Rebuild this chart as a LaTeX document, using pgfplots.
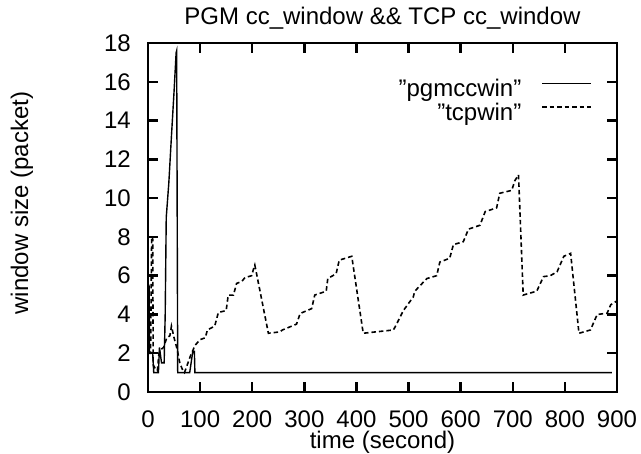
\documentclass[border=0pt]{standalone}
\usepackage{fontspec}
\setmainfont{Liberation Sans}
\usepackage{pgfplots}
\usepackage{pgfplotstable}
\pgfplotsset{compat=1.18}

\pgfplotstableread{
t v
0 5.5
2 5.5
3 2
9 2
11 1
20 1
22 2.3
26 1.5
31 1.5
33 4
35 9
40 10.8
45 13.2
50 15.5
54 17.5
55 17.6
57 1
80 1
86 2.1
89 2.1
90 1
890 1
}\pgmtable

\pgfplotstableread{
t v
0 2
5 2
7 8
9 8
10 1.4
14 1.2
18 1.1
21 2.0
25 2.2
30 2.3
36 2.8
42 2.9
45 3.4
50 2.8
56 2.2
61 1.5
67 1.1
70 1.0
74 1.3
78 1.6
82 1.9
87 2.2
90 2.4
100 2.7
110 2.8
114 3.2
128 3.4
135 4.1
150 4.2
154 5.0
164 5.0
170 5.6
180 5.7
186 5.9
199 6.0
202 6.3
205 6.55
231 3.03
253 3.1
258 3.2
285 3.5
292 4.05
314 4.3
320 5.0
342 5.2
345 5.85
361 6.1
367 6.8
391 7.0
413 3.03
471 3.2
477 3.5
490 4.2
509 4.9
512 5.2
535 5.85
554 6.0
560 6.7
579 6.9
586 7.6
605 7.75
615 8.4
637 8.6
647 9.3
669 9.5
675 10.25
698 10.4
704 10.9
711 11.2
720 5.0
746 5.2
759 5.95
772 6.0
785 6.2
798 7.0
811 7.15
827 3.03
849 3.2
862 4.0
881 4.06
888 4.5
900 4.7
}\tcptable

\newcommand{\bigfont}{\fontsize{24bp}{28bp}\selectfont}

\begin{document}
\bigfont
\begin{tikzpicture}
\begin{axis}[
  scale only axis,
  width=469bp, height=349bp,
  xmin=0, xmax=900, ymin=0, ymax=18,
  xtick={0,100,200,300,400,500,600,700,800,900},
  xticklabels={0,100,200,300,400,500,600,700,800,900},
  ytick={0,2,4,6,8,10,12,14,16,18},
  yticklabels={0,2,4,6,8,10,12,14,16,18},
  tick align=inside,
  major tick length=10bp,
  tick style={line width=2.5bp, black},
  axis line style={line width=2.5bp},
  /pgf/number format/assume math mode=true,
  tick label style={font=\bigfont},
  xticklabel style={anchor=base, inner sep=0pt, yshift=-35.5bp},
  yticklabel style={anchor=east, inner sep=0pt, xshift=-17bp},
  title={PGM cc\_window \&\& TCP cc\_window},
  title style={font=\bigfont, at={(rel axis cs:0.5,1)}, anchor=base, inner sep=0pt, yshift=13bp},
  xlabel={time (second)},
  every axis x label/.style={font=\bigfont, at={(rel axis cs:0.5,0)}, anchor=base, inner sep=0pt, yshift=-56bp},
  ylabel={window size (packet)},
  every axis y label/.style={font=\bigfont, at={(rel axis cs:0,0.5)}, xshift=-126bp, yshift=14.5bp, rotate=90, anchor=center, inner sep=0pt},
  legend plot pos=right,
  legend cell align=right,
  legend image code/.code={\draw[#1] (0bp,6bp) -- (49bp,6bp);},
  legend style={font=\bigfont, draw=none, fill=none, at={(rel axis cs:0.947,0.897)}, anchor=north east, inner sep=0pt, row sep=2.5bp, column sep=20bp, nodes={inner sep=0pt}},
]
\addplot[black, line width=1.4bp] table[x=t, y=v] {\pgmtable};
\addlegendentry{\char34 pgmccwin\char34}
\addplot[black, line width=1.6bp, dash pattern=on 4.5bp off 3bp] table[x=t, y=v] {\tcptable};
\addlegendentry{\char34 tcpwin\char34}
\end{axis}
\pgfresetboundingbox
\path ([shift={(-148bp,-61bp)}]current axis.south west) rectangle ([shift={(24bp,43bp)}]current axis.north east);
\end{tikzpicture}
\end{document}
